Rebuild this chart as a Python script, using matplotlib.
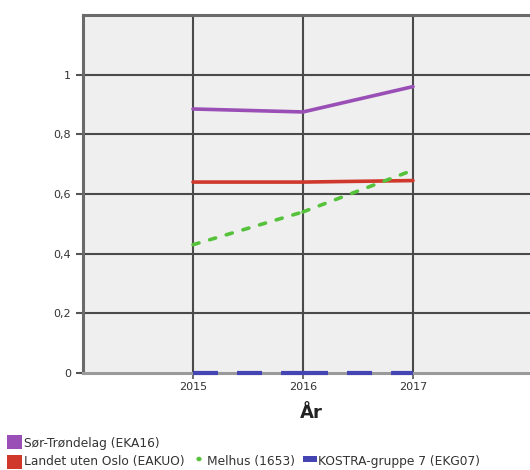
import matplotlib
matplotlib.use("Agg")
import matplotlib.pyplot as plt
from matplotlib.patches import Rectangle, Circle

years = [2015, 2016, 2017]
sor_trondelag = [0.885, 0.875, 0.96]
landet_uten_oslo = [0.64, 0.64, 0.645]
melhus = [0.43, 0.54, 0.68]
kostra_gruppe7 = [0.0, 0.0, 0.0]

series_names = ["Sør-Trøndelag (EKA16)", "Landet uten Oslo (EAKUO)",
                "Melhus (1653)", "KOSTRA-gruppe 7 (EKG07)"]
y_ticks = [0, 0.2, 0.4, 0.6, 0.8, 1.0]
y_tick_labels = ["0", "0,2", "0,4", "0,6", "0,8", "1"]
x_label = "År"

c_purple = "#9a4fb6"
c_red = "#d0382b"
c_green = "#56c23c"
c_blue = "#4444b2"

plt.rcParams['lines.scale_dashes'] = False
W, H = 530, 470
fig = plt.figure(figsize=(W / 100, H / 100), dpi=100)

# axes in pixel geometry
left_px, top_px, bottom_px = 83, 15, 373
px_per_year = 110
xmin, xmax = 2014, 2018.5
ax_w = (xmax - xmin) * px_per_year
ax_h = bottom_px - top_px
ax = fig.add_axes([left_px / W, 1 - bottom_px / H, ax_w / W, ax_h / H])
ax.set_facecolor("#efefef")
ax.set_xlim(xmin, xmax)
ax.set_ylim(0, 1.2)

grid_c = "#4a4a4a"
for y in [0.2, 0.4, 0.6, 0.8, 1.0]:
    ax.axhline(y, color=grid_c, lw=1.5, zorder=1)
for x in years:
    ax.axvline(x, color=grid_c, lw=1.5, zorder=1)
for s in ["top", "left"]:
    ax.spines[s].set_color("#6a6a6a")
    ax.spines[s].set_linewidth(2.2)
ax.spines["right"].set_visible(False)
ax.spines["bottom"].set_color("#9a9a9a")
ax.spines["bottom"].set_linewidth(2.2)

ax.set_yticks(y_ticks)
ax.set_yticklabels(y_tick_labels)
ax.set_xticks(years)
ax.set_xticklabels([str(y) for y in years])
ax.tick_params(axis="y", length=5, width=1.5, color="#555555", labelsize=8,
               labelcolor="#333333", pad=3.5)
ax.tick_params(axis="x", length=4, width=1.2, color="#555555", labelsize=8,
               labelcolor="#333333", pad=2.5)
ax.set_xlabel(x_label, fontsize=13, fontweight="bold", color="#222222")
ax.xaxis.label.set_va("center")
ax.xaxis.set_label_coords((311 - left_px) / ax_w, (bottom_px - 413) / ax_h)

ax.plot(years, sor_trondelag, color=c_purple, lw=2.6, solid_capstyle="round",
        zorder=4, clip_on=False)
ax.plot(years, landet_uten_oslo, color=c_red, lw=2.6, solid_capstyle="round",
        zorder=4, clip_on=False)
for i in range(len(years) - 1):
    ax.plot(years[i:i + 2], melhus[i:i + 2], color=c_green, lw=2.6,
            linestyle=(0, (4.5, 8.0)), dash_capstyle="round", zorder=5, clip_on=False)
    ax.plot(years[i:i + 2], kostra_gruppe7[i:i + 2], color=c_blue, lw=3.0,
            linestyle=(0, (18, 13.7)), dash_capstyle="butt", zorder=6, clip_on=False)

# legend drawn in figure pixel coordinates
def px_rect(x0, y0, x1, y1, color):
    fig.patches.append(Rectangle((x0 / W, 1 - y1 / H), (x1 - x0) / W, (y1 - y0) / H,
                                 transform=fig.transFigure, facecolor=color,
                                 edgecolor="none"))

def px_text(x, y, s):
    fig.text(x / W, 1 - y / H, s, fontsize=8.8, color="#333333", va="center", ha="left")

px_rect(7, 435, 22, 449, c_purple)
px_text(24, 444, series_names[0])
px_rect(7, 455, 22, 469, c_red)
px_text(24, 462, series_names[1])
fig.patches.append(Circle((199 / W, 1 - 459 / H), 2.6 / W, transform=fig.transFigure,
                          facecolor=c_green, edgecolor="none"))
px_text(207, 462, series_names[2])
px_rect(303, 456, 317, 462, c_blue)
px_text(318, 462, series_names[3])

fig.savefig("out.png", dpi=100)
